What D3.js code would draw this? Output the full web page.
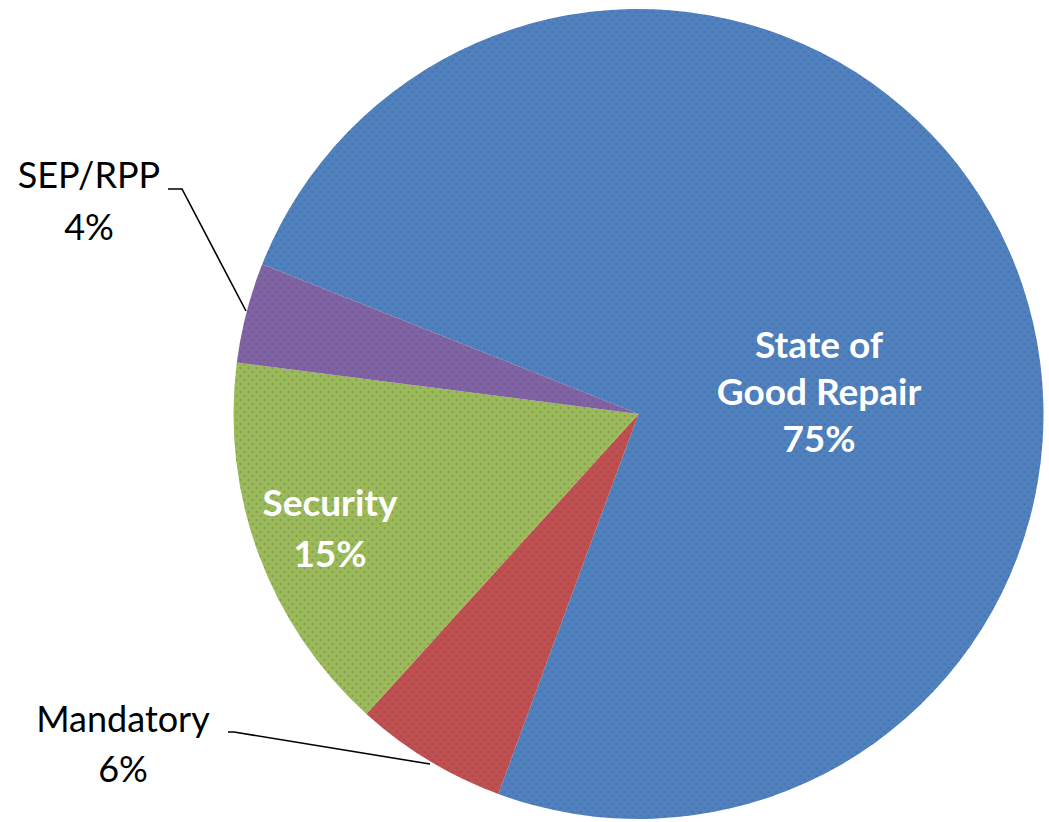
<!DOCTYPE html>
<html>
<head>
<meta charset="utf-8">
<script src="https://cdn.jsdelivr.net/npm/d3@7"></script>
<style>
  body { margin: 0; background: #fff; }
  svg { display: block; }
</style>
</head>
<body>
<svg width="1049" height="822"></svg>
<script>
var svg = d3.select('svg');

// data
var categories = ['State of Good Repair', 'Mandatory', 'Security', 'SEP/RPP'];
var values = [74.6, 6.1, 15.3, 4.0];
var shown = ['75%', '6%', '15%', '4%'];
var colors = ['#4F81BD', '#C0504D', '#9BBB59', '#8064A2'];

// layout
var cx = 638.5, cy = 414, radius = 405;
var startDeg = -68.3;

var table = categories.map(function (c, i) {
    return { name: c, value: values[i], pct: shown[i], color: colors[i] };
});

var pie = d3.pie()
    .value(function (d) { return d.value; })
    .sort(null)
    .startAngle(startDeg * Math.PI / 180)
    .endAngle((startDeg + 360) * Math.PI / 180);

var arc = d3.arc().innerRadius(0).outerRadius(radius);

// little dither dots like the original gif
var defs = svg.append('defs');
var pat = defs.append('pattern')
    .attr('id', 'dots')
    .attr('width', 8).attr('height', 8)
    .attr('patternUnits', 'userSpaceOnUse');
pat.append('circle').attr('cx', 2).attr('cy', 2).attr('r', 0.9).attr('fill', 'rgba(70,40,150,0.35)');
pat.append('circle').attr('cx', 6).attr('cy', 6).attr('r', 0.9).attr('fill', 'rgba(70,40,150,0.35)');

var g = svg.append('g').attr('transform', 'translate(' + cx + ',' + cy + ')');

var slices = g.selectAll('g.slice')
    .data(pie(table))
    .enter()
    .append('g')
    .attr('class', 'slice');

slices.append('path')
    .attr('d', arc)
    .attr('fill', function (d) { return d.data.color; });

slices.append('path')
    .attr('d', arc)
    .attr('fill', 'url(#dots)');

// label boxes (page coords of the text centre) and leader lines
var labelSpots = {
    'State of Good Repair': { x: 819, y: 358, lines: ['State of', 'Good Repair'], inside: true, gap: 47 },
    'Security': { x: 330, y: 516, lines: ['Security'], inside: true, gap: 51 },
    'SEP/RPP': { x: 89, y: 188, lines: ['SEP/RPP'], inside: false, gap: 52 },
    'Mandatory': { x: 123, y: 732, lines: ['Mandatory'], inside: false, gap: 50 }
};

var leaders = {
    'SEP/RPP': [[168, 189], [182, 189], [246, 311]],
    'Mandatory': [[228, 732], [234, 732], [430, 764]]
};

var line = d3.line();
Object.keys(leaders).forEach(function (k) {
    svg.append('path')
        .attr('d', line(leaders[k]))
        .attr('fill', 'none')
        .attr('stroke', '#000')
        .attr('stroke-width', 1.6);
});

table.forEach(function (d) {
    var s = labelSpots[d.name];
    var t = svg.append('text')
        .attr('text-anchor', 'middle')
        .attr('font-family', 'Lato, "Open Sans", sans-serif')
        .attr('font-size', s.inside ? 37 : 36)
        .attr('font-weight', s.inside ? 'bold' : 'normal')
        .attr('fill', s.inside ? '#fff' : '#000');
    s.lines.concat([d.pct]).forEach(function (txt, i) {
        t.append('tspan')
            .attr('x', s.x)
            .attr('y', s.y + i * s.gap)
            .text(txt);
    });
});
</script>
</body>
</html>
